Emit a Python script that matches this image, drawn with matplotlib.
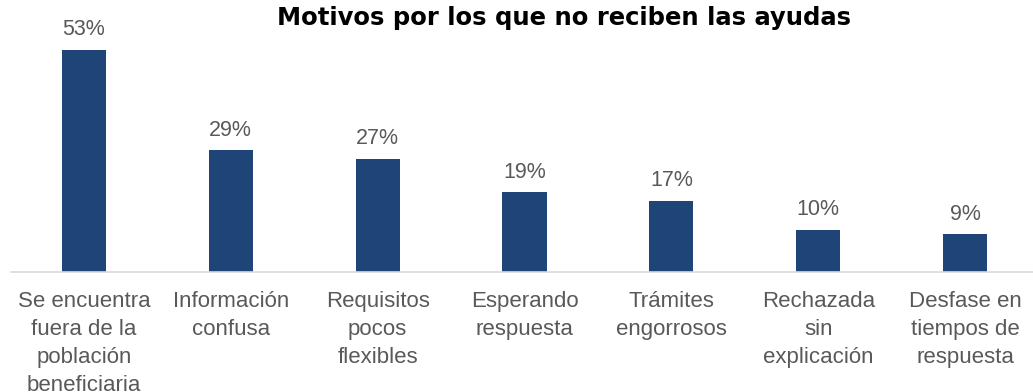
import matplotlib
matplotlib.use("Agg")
import matplotlib.pyplot as plt
import numpy as np

categories = [
    "Se encuentra\nfuera de la\npoblación\nbeneficiaria",
    "Información\nconfusa",
    "Requisitos\npocos\nflexibles",
    "Esperando\nrespuesta",
    "Trámites\nengorrosos",
    "Rechazada\nsin\nexplicación",
    "Desfase en\ntiempos de\nrespuesta",
]
values = [53, 29, 27, 19, 17, 10, 9]
title = "Motivos por los que no reciben las ayudas"

bar_color = "#1f4478"
text_gray = "#595959"

fig = plt.figure(figsize=(10.33, 3.92), dpi=100)
ax = fig.add_axes([10.5 / 1033, 120 / 392, 1028 / 1033, 251.4 / 392])

x = np.arange(len(categories))
bars = ax.bar(x, values, width=0.3, color=bar_color)

for rect, v in zip(bars, values):
    ax.annotate(f"{v}%", (rect.get_x() + rect.get_width() / 2, rect.get_height()),
                xytext=(0, 7), textcoords="offset points", ha="center", va="bottom",
                fontsize=15.5, color=text_gray, family="Liberation Sans")

ax.set_xlim(-0.5, len(categories) - 0.5)
ax.set_ylim(0, 60)
ax.set_xticks(x)
ax.set_xticklabels(categories, fontsize=16, color=text_gray, family="Liberation Sans",
                   linespacing=1.42)
ax.tick_params(axis="x", length=0, pad=14)
ax.set_yticks([])
for side in ["top", "right", "left"]:
    ax.spines[side].set_visible(False)
ax.spines["bottom"].set_color("#d9d9d9")
ax.spines["bottom"].set_linewidth(1.2)

fig.text(564 / 1033, 1 - 18 / 392, title, ha="center", va="center",
         fontsize=17.5, fontweight="bold", family="DejaVu Sans", color="black")

fig.savefig("out.png", dpi=100)
